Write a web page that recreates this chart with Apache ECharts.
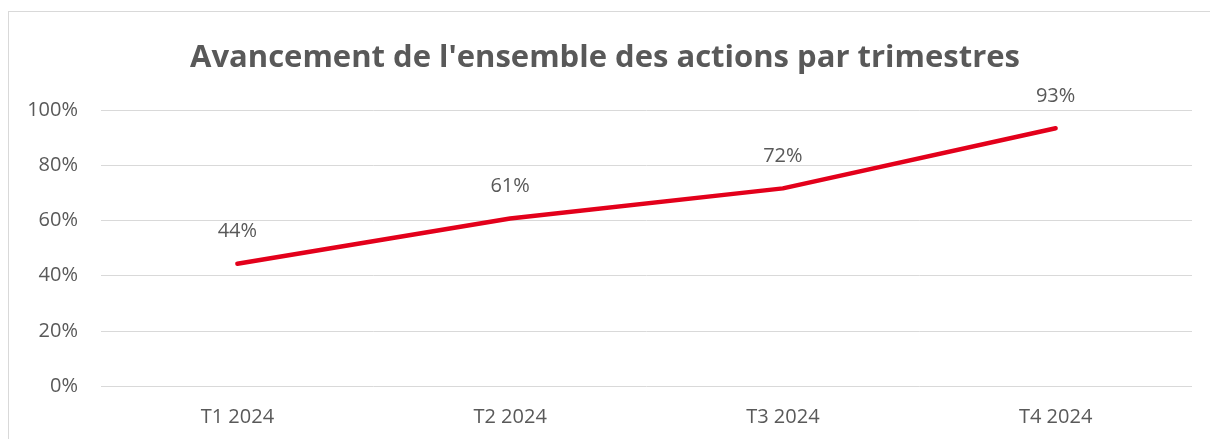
<!DOCTYPE html>
<html>
<head>
<meta charset="utf-8">
<title>Avancement de l'ensemble des actions par trimestres</title>
<script src="https://cdn.jsdelivr.net/npm/echarts@6/dist/echarts.min.js"></script>
<style>
  html, body { margin: 0; padding: 0; background: #fff; }
  #frame {
    position: absolute; left: 8px; top: 11px;
    width: 1220px; height: 450px;
    border: 1px solid #d9d9d9; box-sizing: border-box;
  }
  #main { position: absolute; left: 0; top: 0; width: 1210px; height: 439px; }
</style>
</head>
<body>
<div id="frame"></div>
<div id="main"></div>
<script>
// données
var trimestres = ['T1 2024', 'T2 2024', 'T3 2024', 'T4 2024'];
var avancement = [0.443, 0.607, 0.716, 0.934];
var titre = "Avancement de l'ensemble des actions par trimestres";

var chart = echarts.init(document.getElementById('main'));
var gris = '#595959';
var police = '"Open Sans", "Noto Sans", sans-serif';

chart.setOption({
  animation: false,
  title: {
    text: titre,
    left: 'center',
    top: 38,
    textStyle: { fontFamily: police, fontSize: 31, fontWeight: 'bold', color: gris }
  },
  grid: { left: 101, right: 18, top: 110, bottom: 53 },
  xAxis: {
    type: 'category',
    data: trimestres,
    axisLine: { show: false },
    axisTick: { show: false },
    axisLabel: { color: gris, fontFamily: police, fontSize: 20, margin: 21 }
  },
  yAxis: {
    type: 'value',
    min: 0, max: 1, interval: 0.2,
    axisLine: { show: false },
    axisTick: { show: false },
    axisLabel: {
      color: gris, fontFamily: police, fontSize: 20, margin: 23,
      formatter: function (v) { return Math.round(v * 100) + '%'; }
    },
    splitLine: { lineStyle: { color: '#d9d9d9', width: 1 } }
  },
  series: [{
    type: 'line',
    data: avancement,
    symbol: 'circle',
    symbolSize: 2,
    showSymbol: true,
    itemStyle: { color: '#e3001b' },
    lineStyle: { color: '#e3001b', width: 4.5, cap: 'round' },
    label: {
      show: true, position: 'top', distance: 21,
      color: gris, fontFamily: police, fontSize: 20,
      formatter: function (p) { return Math.round(p.value * 100) + '%'; }
    }
  }]
});
</script>
</body>
</html>
